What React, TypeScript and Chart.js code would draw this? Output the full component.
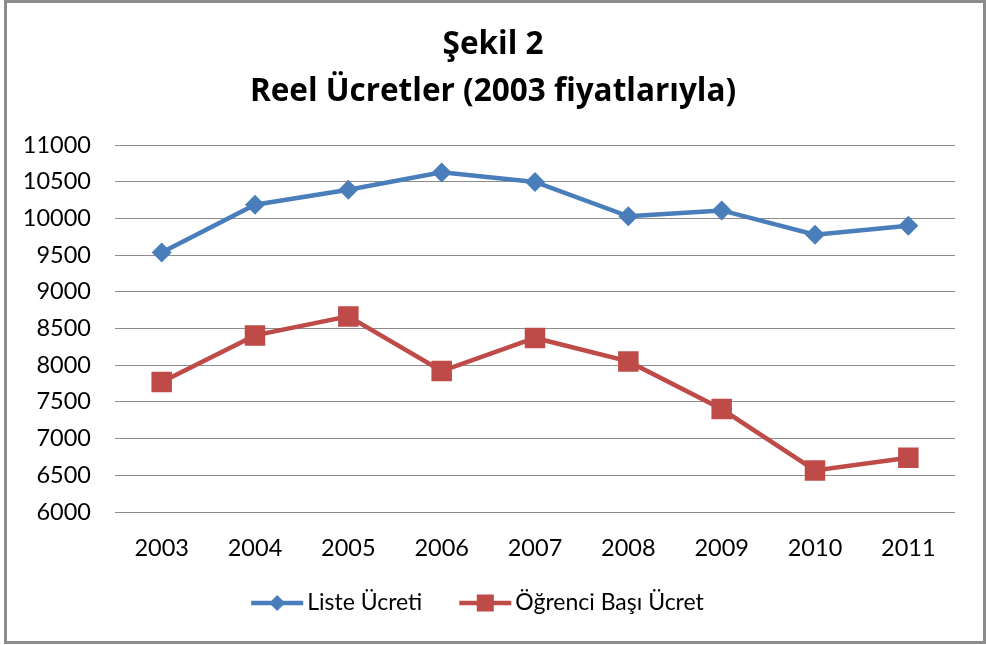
import React, { useEffect, useRef } from "react";
import { Chart, registerables } from "chart.js";

Chart.register(...registerables);

const years = ["2003", "2004", "2005", "2006", "2007", "2008", "2009", "2010", "2011"];
const listeUcreti = [9537, 10187, 10391, 10627, 10496, 10028, 10109, 9778, 9901];
const ogrenciBasiUcret = [7771, 8406, 8665, 7921, 8371, 8052, 7403, 6567, 6740];
const titleLines = ["Şekil 2", "Reel Ücretler (2003 fiyatlarıyla)"];
const seriesNames = ["Liste Ücreti", "Öğrenci Başı Ücret"];

const BLUE = "#4A7EBB";
const RED = "#BE4B48";
const FONT = "Lato, 'Open Sans', sans-serif";
const TITLE_FONT = "'Open Sans', Lato, sans-serif";

const borderPlugin = {
  id: "outerBorder",
  afterDraw(chart: any) {
    const ctx = chart.ctx;
    ctx.save();
    ctx.strokeStyle = "#8C8C8C";
    ctx.lineWidth = 3;
    ctx.strokeRect(5.5, 1.5, 979, 641);
    ctx.restore();
  },
};

const customLegend = {
  id: "customLegend",
  afterDraw(chart: any) {
    const ctx = chart.ctx;
    const y = 603;
    const iconW = 52;
    const gapText = 4;
    const gapItems = 37;
    ctx.save();
    ctx.font = `23px ${FONT}`;
    ctx.textBaseline = "middle";
    ctx.fillStyle = "#000";
    const datasets = chart.data.datasets;
    const widths = datasets.map((d: any) => ctx.measureText(d.label).width);
    let total = 0;
    widths.forEach((w: number, i: number) => {
      total += iconW + gapText + w + (i < widths.length - 1 ? gapItems : 0);
    });
    let x = 477.5 - total / 2;
    datasets.forEach((d: any, i: number) => {
      const color = d.borderColor;
      ctx.strokeStyle = color;
      ctx.fillStyle = color;
      ctx.lineWidth = 4.5;
      ctx.beginPath();
      ctx.moveTo(x, y);
      ctx.lineTo(x + iconW, y);
      ctx.stroke();
      const cx = x + iconW / 2;
      if (d.pointStyle === "rectRot") {
        ctx.beginPath();
        ctx.moveTo(cx, y - 8);
        ctx.lineTo(cx + 8, y);
        ctx.lineTo(cx, y + 8);
        ctx.lineTo(cx - 8, y);
        ctx.closePath();
        ctx.fill();
      } else {
        ctx.fillRect(cx - 8.5, y - 8.5, 17, 17);
      }
      x += iconW + gapText;
      ctx.fillStyle = "#000";
      ctx.textAlign = "left";
      ctx.fillText(d.label, x, y);
      x += widths[i] + gapItems;
    });
    ctx.restore();
  },
};

export default function App() {
  const ref = useRef<HTMLCanvasElement | null>(null);
  useEffect(() => {
    const chart = new Chart(ref.current!, {
      type: "line",
      data: {
        labels: years,
        datasets: [
          {
            label: seriesNames[0],
            data: listeUcreti,
            borderColor: BLUE,
            backgroundColor: BLUE,
            borderWidth: 4.5,
            pointStyle: "rectRot",
            pointRadius: 10,
            pointBorderWidth: 0,
            tension: 0,
            yAxisID: "y",
          },
          {
            label: seriesNames[1],
            data: ogrenciBasiUcret,
            borderColor: RED,
            backgroundColor: RED,
            borderWidth: 4.5,
            pointStyle: "rect",
            pointRadius: 14.5,
            pointBorderWidth: 0,
            tension: 0,
            yAxisID: "y",
          },
        ],
      },
      options: {
        animation: false,
        responsive: false,
        layout: { padding: { left: 0, right: 0, top: 0, bottom: 62 } },
        plugins: {
          title: {
            display: true,
            text: titleLines,
            color: "#000",
            font: { family: TITLE_FONT, size: 31.5, weight: "bold", lineHeight: 47 / 31.5 },
            padding: { top: 21.5, bottom: 29.5 },
          },
          legend: { display: false },
          tooltip: { enabled: false },
        },
        scales: {
          x: {
            offset: true,
            grid: { display: false, drawTicks: false },
            border: { display: false },
            ticks: { color: "#000", font: { family: FONT, size: 23.5 }, padding: 22, maxRotation: 0 },
            afterFit: (s: any) => {
              s.height = 71;
            },
          },
          y: {
            min: 6000,
            max: 11000,
            grid: { color: "#8C8C8C", lineWidth: 1, drawTicks: false },
            border: { display: false },
            ticks: {
              stepSize: 500,
              color: "#000",
              font: { family: FONT, size: 23.5 },
              padding: 24,
              callback: (v: any) => String(v),
            },
            afterFit: (s: any) => {
              s.width = 115;
            },
          },
          spacer: {
            type: "linear",
            position: "right",
            display: true,
            grid: { display: false, drawTicks: false },
            border: { display: false },
            ticks: { display: false },
            afterFit: (s: any) => {
              s.width = 31;
            },
          },
        },
      },
      plugins: [borderPlugin, customLegend],
    });
    return () => chart.destroy();
  }, []);
  return (
    <div style={{ position: "fixed", left: 0, top: 0, width: 986, height: 645, background: "#fff" }}>
      <canvas ref={ref} width={986} height={645} style={{ display: "block" }} />
    </div>
  );
}
